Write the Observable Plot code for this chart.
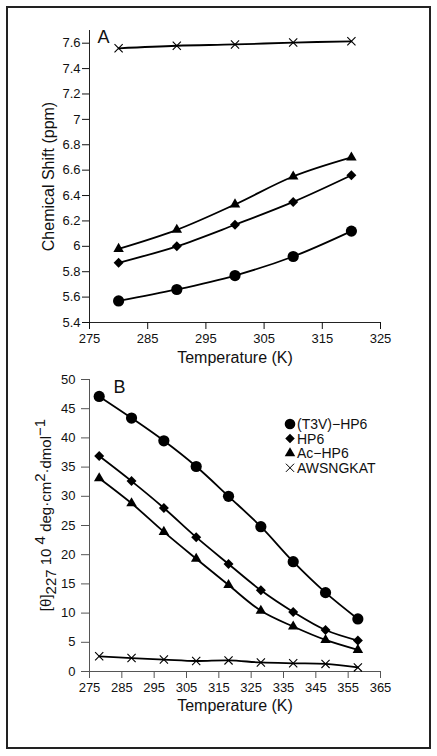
<!DOCTYPE html>
<html><head><meta charset="utf-8">
<script src="https://cdn.jsdelivr.net/npm/d3@7"></script>
<script src="https://cdn.jsdelivr.net/npm/@observablehq/plot@0.6"></script>
<style>
html,body{margin:0;padding:0;background:#fff;}
body{width:437px;height:756px;position:relative;overflow:hidden;font-family:"Liberation Sans",Arial,sans-serif;}
#border{position:absolute;left:6px;top:6px;width:425px;height:743px;border:2px solid #222;box-sizing:border-box;}
#a{position:absolute;left:0;top:0;}
#b{position:absolute;left:0;top:360px;}
</style></head><body>
<div id="border"></div><div id="a"></div><div id="b"></div>
<script>
// ---- data ----
const seriesNames = ["(T3V)\u2212HP6", "HP6", "Ac\u2212HP6", "AWSNGKAT"];
const symbols = ["circle", "diamond2", "triangle", "times"];

// Panel A: chemical shift (ppm)
const tempA = [280, 290, 300, 310, 320];
const shiftT3V = [5.57, 5.66, 5.77, 5.92, 6.12];
const shiftHP6 = [5.87, 6.00, 6.17, 6.35, 6.56];
const shiftAc = [5.98, 6.13, 6.33, 6.55, 6.70];
const shiftAWS = [7.56, 7.58, 7.59, 7.605, 7.615];
const xTicksA = [275, 285, 295, 305, 315, 325];
const yTicksA = [5.4, 5.6, 5.8, 6, 6.2, 6.4, 6.6, 6.8, 7, 7.2, 7.4, 7.6];

// Panel B: [θ]227
const tempB = [278, 288, 298, 308, 318, 328, 338, 348, 358];
const thetaT3V = [47.1, 43.4, 39.5, 35.1, 30.0, 24.8, 18.8, 13.5, 9.0];
const thetaHP6 = [36.9, 32.6, 28.0, 23.0, 18.4, 13.9, 10.2, 7.1, 5.3];
const thetaAc = [33.1, 28.8, 23.9, 19.3, 14.8, 10.4, 7.7, 5.4, 3.7];
const thetaAWS = [2.6, 2.3, 2.05, 1.8, 1.9, 1.55, 1.4, 1.3, 0.7];
const xTicksB = [275, 285, 295, 305, 315, 325, 335, 345, 355, 365];
const yTicksB = [0, 5, 10, 15, 20, 25, 30, 35, 40, 45, 50];

const radii = [5.6, 4.5, 3.9, 3.8];

function rows(temps, valueLists) {
  return seriesNames.flatMap((s, i) => temps.map((t, j) => ({series: s, idx: i, temp: t, value: valueLists[i][j]})));
}
const rowsA = rows(tempA, [shiftT3V, shiftHP6, shiftAc, shiftAWS]);
const rowsB = rows(tempB, [thetaT3V, thetaHP6, thetaAc, thetaAWS]);

function seriesMarks(data) {
  const marks = [Plot.line(data, {x: "temp", y: "value", z: "series", curve: "catmull-rom", stroke: "#000", strokeWidth: 1.8})];
  seriesNames.forEach((s, i) => {
    marks.push(Plot.dot(data.filter(d => d.idx === i), {
      x: "temp", y: "value", symbol: symbols[i], r: radii[i],
      fill: i < 3 ? "#000" : "none", stroke: i < 3 ? "none" : "#000", strokeWidth: 1.1
    }));
  });
  return marks;
}

const style = {fontFamily: "'Liberation Sans', Arial, sans-serif", color: "#111", background: "transparent", overflow: "visible"};

// ---- Panel A ----
const plotA = Plot.plot({
  width: 437, height: 380,
  marginLeft: 89, marginRight: 57, marginTop: 30, marginBottom: 58,
  style,
  x: {domain: [275, 325]},
  y: {domain: [5.4, 7.7]},
  marks: [
    Plot.frame({anchor: "left", stroke: "#222"}),
    Plot.frame({anchor: "bottom", stroke: "#222"}),
    Plot.axisY({ticks: yTicksA, tickSize: 7, tickPadding: 2, fontSize: 13, label: null, tickFormat: d => String(d)}),
    Plot.axisX({ticks: xTicksA, tickSize: 7, tickPadding: 4, fontSize: 13, label: null, tickFormat: d => String(d)}),
    ...seriesMarks(rowsA),
    Plot.text(["A"], {text: d => d, frameAnchor: "top-left", dx: 8, dy: 7, fontSize: 18, textAnchor: "start", lineAnchor: "middle"}),
    Plot.text(["Temperature (K)"], {text: d => d, frameAnchor: "bottom", dy: 35, fontSize: 16, textAnchor: "middle", lineAnchor: "middle"}),
    Plot.text(["Chemical Shift (ppm)"], {text: d => d, frameAnchor: "left", dx: -41, rotate: -90, fontSize: 16, textAnchor: "middle", lineAnchor: "middle"})
  ]
});
document.getElementById("a").appendChild(plotA);

// ---- Panel B ----
const plotB = Plot.plot({
  width: 437, height: 396,
  marginLeft: 89, marginRight: 57, marginTop: 19, marginBottom: 85,
  style,
  x: {domain: [275, 365]},
  y: {domain: [0, 50]},
  marks: [
    Plot.frame({anchor: "left", stroke: "#555"}),
    Plot.frame({anchor: "bottom", stroke: "#555"}),
    Plot.axisY({ticks: yTicksB, tickSize: 8, tickPadding: 6, fontSize: 13, label: null, stroke: "#555"}),
    Plot.axisX({ticks: xTicksB, tickSize: 7, tickPadding: 4, fontSize: 13, label: null, stroke: "#555", tickFormat: d => String(d)}),
    ...seriesMarks(rowsB),
    Plot.text(["B"], {text: d => d, frameAnchor: "top-left", dx: 24, dy: 8, fontSize: 18, textAnchor: "start", lineAnchor: "middle"}),
    Plot.text(["Temperature (K)"], {text: d => d, frameAnchor: "bottom", dy: 34, fontSize: 16, textAnchor: "middle", lineAnchor: "middle"})
  ]
});
document.getElementById("b").appendChild(plotB);

// y label with sub/superscripts
const svgB = d3.select(plotB);
const lab = svgB.append("text")
  .attr("transform", "translate(51,155) rotate(-90)")
  .attr("text-anchor", "middle")
  .attr("font-size", 15)
  .attr("fill", "#111");
lab.append("tspan").text("[\u03B8]");
lab.append("tspan").attr("dy", 5).text("227");
lab.append("tspan").attr("dy", -5).text(" 10");
lab.append("tspan").attr("dy", -6).text(" 4");
lab.append("tspan").attr("dy", 6).text(" deg\u00B7cm");
lab.append("tspan").attr("dy", -6).text("2");
lab.append("tspan").attr("dy", 6).text("\u00B7dmol");
lab.append("tspan").attr("dy", -6).text("\u22121");

// legend
const legendRadii = [5.3, 4.3, 3.9, 3.8];
const leg = svgB.append("g").attr("font-size", 14).attr("fill", "#111").attr("text-anchor", "start");
seriesNames.forEach((s, i) => {
  const cy = 64 + i * 14.6;
  const size = legendRadii[i] * legendRadii[i] * Math.PI;
  const symType = [d3.symbolCircle, d3.symbolDiamond2, d3.symbolTriangle, d3.symbolTimes][i];
  leg.append("path")
    .attr("transform", `translate(290,${cy})`)
    .attr("d", d3.symbol(symType, size)())
    .attr("fill", i < 3 ? "#000" : "none")
    .attr("stroke", i < 3 ? "none" : "#000");
  leg.append("text").attr("x", 297).attr("y", cy).attr("dy", "0.35em").attr("text-anchor", "start").text(s);
});
</script>
</body></html>
